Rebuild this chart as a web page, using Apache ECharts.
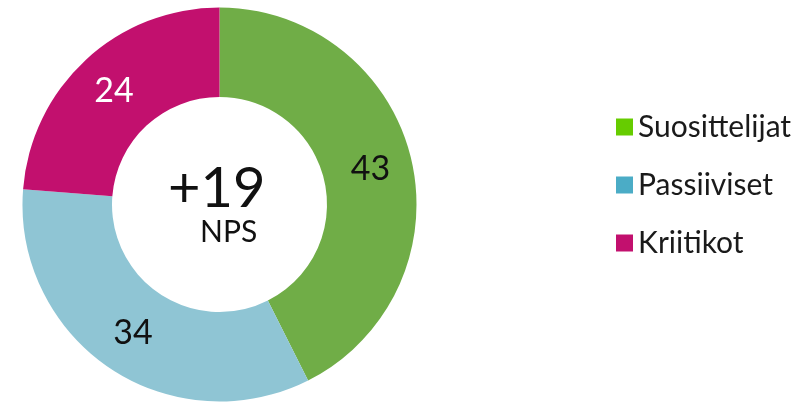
<!DOCTYPE html>
<html>
<head>
<meta charset="utf-8">
<script src="https://cdn.jsdelivr.net/npm/echarts@6/dist/echarts.min.js"></script>
<style>
  html, body { margin: 0; padding: 0; background: #ffffff; }
  #chart { width: 806px; height: 402px; }
</style>
</head>
<body>
<div id="chart"></div>
<script>
// NPS distribution
const categories = ["Suosittelijat", "Passiiviset", "Kriitikot"];
const values = [43, 34, 24];
const sliceColors = ["#70AD47", "#8FC5D4", "#C2106E"];
const legendColors = ["#66CC00", "#4BACC6", "#C2106E"];
const labelColors = ["#111111", "#111111", "#ffffff"];
const npsScore = "+19";
const npsLabel = "NPS";

const chart = echarts.init(document.getElementById("chart"));

const pieData = categories.map((name, i) => ({
    name: name,
    value: values[i],
    itemStyle: { color: sliceColors[i] },
    label: { color: labelColors[i] }
}));

const option = {
    animation: false,
    backgroundColor: "#ffffff",
    legend: {
        orient: "vertical",
        left: 611,
        top: 107,
        icon: "rect",
        itemWidth: 17,
        itemHeight: 17,
        itemGap: 28,
        selectedMode: false,
        textStyle: {
            fontFamily: "Lato",
            fontSize: 30,
            color: "#1a1a1a",
            padding: [0, 0, 0, 0]
        },
        data: categories.map((name, i) => ({
            name: name,
            itemStyle: { color: legendColors[i] }
        }))
    },
    graphic: [
        {
            type: "text",
            left: 168,
            top: 161,
            style: {
                text: npsScore,
                fontFamily: "Lato",
                fontSize: 56,
                fill: "#111111"
            }
        },
        {
            type: "text",
            left: 200,
            top: 217,
            style: {
                text: npsLabel,
                fontFamily: "Lato",
                fontSize: 30,
                fill: "#111111"
            }
        }
    ],
    series: [
        {
            type: "pie",
            center: [219.5, 204.5],
            radius: [107.5, 197],
            startAngle: 90,
            clockwise: true,
            avoidLabelOverlap: false,
            emphasis: { disabled: true },
            itemStyle: { borderWidth: 0 },
            label: {
                show: true,
                position: "inside",
                formatter: "{c}",
                fontFamily: "Lato",
                fontSize: 34
            },
            labelLine: { show: false },
            data: pieData
        }
    ]
};

chart.setOption(option);
</script>
</body>
</html>
